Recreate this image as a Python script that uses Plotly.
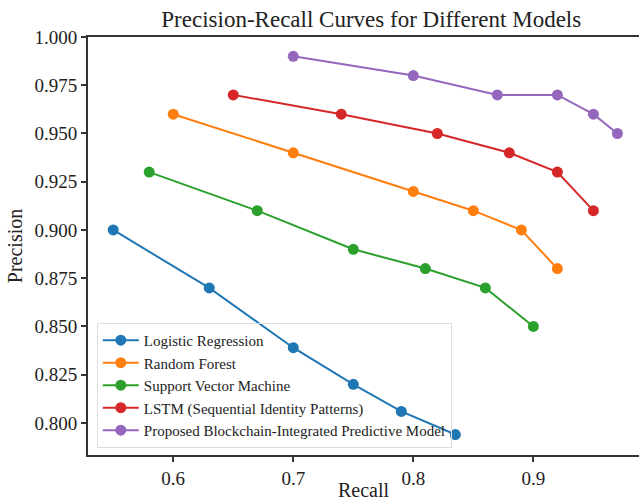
import plotly.graph_objects as go

models = ["Logistic Regression", "Random Forest", "Support Vector Machine",
          "LSTM (Sequential Identity Patterns)", "Proposed Blockchain-Integrated Predictive Model"]
colors = ["#1f77b4", "#ff7f0e", "#2ca02c", "#d62728", "#9467bd"]

lr_recall = [0.55, 0.63, 0.70, 0.75, 0.79, 0.835]
lr_precision = [0.90, 0.87, 0.839, 0.82, 0.806, 0.794]
rf_recall = [0.60, 0.70, 0.80, 0.85, 0.89, 0.92]
rf_precision = [0.96, 0.94, 0.92, 0.91, 0.90, 0.88]
svm_recall = [0.58, 0.67, 0.75, 0.81, 0.86, 0.90]
svm_precision = [0.93, 0.91, 0.89, 0.88, 0.87, 0.85]
lstm_recall = [0.65, 0.74, 0.82, 0.88, 0.92, 0.95]
lstm_precision = [0.97, 0.96, 0.95, 0.94, 0.93, 0.91]
prop_recall = [0.70, 0.80, 0.87, 0.92, 0.95, 0.97]
prop_precision = [0.99, 0.98, 0.97, 0.97, 0.96, 0.95]

series = [(lr_recall, lr_precision), (rf_recall, rf_precision), (svm_recall, svm_precision),
          (lstm_recall, lstm_precision), (prop_recall, prop_precision)]

x_ticks = [0.6, 0.7, 0.8, 0.9]
y_ticks = [0.800, 0.825, 0.850, 0.875, 0.900, 0.925, 0.950, 0.975, 1.000]

FONT = "Liberation Serif, Times New Roman, serif"

fig = go.Figure()
for name, col, (xs, ys) in zip(models, colors, series):
    fig.add_trace(go.Scatter(x=xs, y=ys, mode="lines+markers", name=name,
                             line=dict(color=col, width=2),
                             marker=dict(color=col, size=11)))

fig.update_layout(
    width=639, height=501,
    margin=dict(l=88, r=0, t=37, b=46),
    paper_bgcolor="white", plot_bgcolor="white",
    font=dict(family=FONT, color="#222", size=19),
    title=dict(text="Precision-Recall Curves for Different Models", x=0.581, xref="container",
               xanchor="center", y=0.963, yanchor="middle", font=dict(size=23, family=FONT, color="#222")),
    showlegend=True,
    legend=dict(x=0.016, y=0.017, xanchor="left", yanchor="bottom",
                bgcolor="rgba(255,255,255,0)", bordercolor="#dddddd", borderwidth=1,
                font=dict(size=15, family=FONT, color="#222"), tracegroupgap=0, itemwidth=36),
)
fig.update_xaxes(range=[0.529, 0.988], tickvals=x_ticks, ticktext=[f"{v:.1f}" for v in x_ticks],
                 showgrid=False, zeroline=False, showline=True, linecolor="#333", linewidth=2,
                 mirror=True, ticks="outside", ticklen=5, tickwidth=1.5, tickcolor="#333",
                 automargin=False,
                 title=dict(text="Recall", font=dict(size=20, family=FONT), standoff=2),
                 tickfont=dict(size=19, family=FONT))
fig.update_yaxes(range=[0.7834, 1.0], tickvals=y_ticks, ticktext=[f"{v:.3f}" for v in y_ticks],
                 showgrid=False, zeroline=False, showline=True, linecolor="#333", linewidth=2,
                 ticks="outside", ticklen=5, tickwidth=1.5, tickcolor="#333",
                 automargin=False,
                 title=dict(text="Precision", font=dict(size=20, family=FONT), standoff=6),
                 tickfont=dict(size=19, family=FONT))

fig.write_html("out.html")
